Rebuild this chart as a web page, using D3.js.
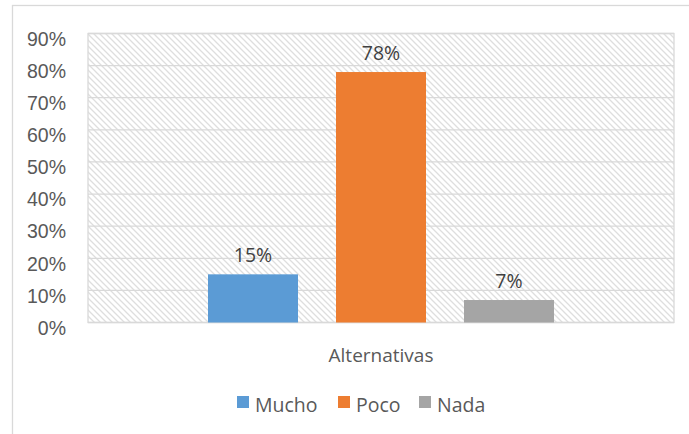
<!DOCTYPE html>
<html lang="es">
<head>
<meta charset="utf-8">
<script src="https://d3js.org/d3.v7.min.js"></script>
<style>
  body { margin: 0; background: #fff; }
  svg { display: block; font-family: "Open Sans", sans-serif; }
  .tick text { fill: #595959; font-size: 19.5px; }
</style>
</head>
<body>
<svg width="689" height="434"></svg>
<script>
// data
var categories = ["Alternativas"];
var series = ["Mucho", "Poco", "Nada"];
var values = [0.15, 0.78, 0.07];
var colors = ["#5b9bd5", "#ed7d31", "#a5a5a5"];
var yTicks = [0, 0.1, 0.2, 0.3, 0.4, 0.5, 0.6, 0.7, 0.8, 0.9];

var svg = d3.select("svg");
var plot = { left: 88, top: 33.5, right: 674, bottom: 322.5 };

// hatch
var defs = svg.append("defs");
var pat = defs.append("pattern")
  .attr("id", "hatch")
  .attr("patternUnits", "userSpaceOnUse")
  .attr("width", 6).attr("height", 6);
pat.append("rect").attr("width", 6).attr("height", 6).attr("fill", "#fff");
pat.append("path")
  .attr("d", "M-1,-1 L7,7 M-4,2 L1,7 M2,-4 L7,1")
  .attr("stroke", "#dedede")
  .attr("stroke-width", 1.3);

// outer border
svg.append("rect")
  .attr("x", 12.5).attr("y", 5.5)
  .attr("width", 700).attr("height", 500)
  .attr("fill", "none")
  .attr("stroke", "#d9d9d9")
  .attr("stroke-width", 1.3);

var x0 = d3.scaleBand()
  .domain(categories)
  .range([plot.left, plot.right]);

var x1 = d3.scaleBand()
  .domain(series)
  .range([x0.bandwidth() / 2 - 173, x0.bandwidth() / 2 + 173])
  .paddingInner(38 / 128);

var y = d3.scaleLinear()
  .domain([0, 0.9])
  .range([plot.bottom, plot.top]);

svg.append("rect")
  .attr("x", plot.left).attr("y", plot.top)
  .attr("width", plot.right - plot.left)
  .attr("height", plot.bottom - plot.top)
  .attr("fill", "url(#hatch)")
  .attr("stroke", "#d9d9d9")
  .attr("stroke-width", 1.3);

// grid
svg.append("g")
  .selectAll("line")
  .data(yTicks)
  .join("line")
  .attr("x1", plot.left).attr("x2", plot.right)
  .attr("y1", function (d) { return y(d); })
  .attr("y2", function (d) { return y(d); })
  .attr("stroke", "#d9d9d9")
  .attr("stroke-width", 1.3);

// y axis
var yAxis = svg.append("g")
  .attr("transform", "translate(" + (plot.left - 22) + ",5)")
  .call(d3.axisLeft(y).tickValues(yTicks).tickFormat(d3.format(".0%")).tickSize(0).tickPadding(0));
yAxis.select(".domain").remove();
yAxis.selectAll("text").attr("dy", "0.35em");

// bars
var g = svg.append("g")
  .attr("transform", "translate(" + x0(categories[0]) + ",0)");

g.selectAll("rect")
  .data(values)
  .join("rect")
  .attr("x", function (d, i) { return x1(series[i]); })
  .attr("y", function (d) { return y(d); })
  .attr("width", x1.bandwidth())
  .attr("height", function (d) { return y(0) - y(d); })
  .attr("fill", function (d, i) { return colors[i]; });

g.selectAll("text.lbl")
  .data(values)
  .join("text")
  .attr("class", "lbl")
  .attr("x", function (d, i) { return x1(series[i]) + x1.bandwidth() / 2; })
  .attr("y", function (d) { return y(d) - 12; })
  .attr("text-anchor", "middle")
  .attr("fill", "#404040")
  .style("font-size", "19.5px")
  .text(function (d) { return d3.format(".0%")(d); });

// x axis label
svg.append("text")
  .attr("x", x0(categories[0]) + x0.bandwidth() / 2)
  .attr("y", 362)
  .attr("text-anchor", "middle")
  .attr("fill", "#595959")
  .style("font-size", "19px")
  .text(categories[0]);

// legend
var legendX = [237, 338, 419];
var leg = svg.append("g")
  .selectAll("g")
  .data(series)
  .join("g")
  .attr("transform", function (d, i) { return "translate(" + legendX[i] + ",396)"; });
leg.append("rect")
  .attr("width", 12).attr("height", 12)
  .attr("fill", function (d, i) { return colors[i]; });
leg.append("text")
  .attr("x", 18).attr("y", 16)
  .attr("fill", "#595959")
  .style("font-size", "19.5px")
  .text(function (d) { return d; });
</script>
</body>
</html>
